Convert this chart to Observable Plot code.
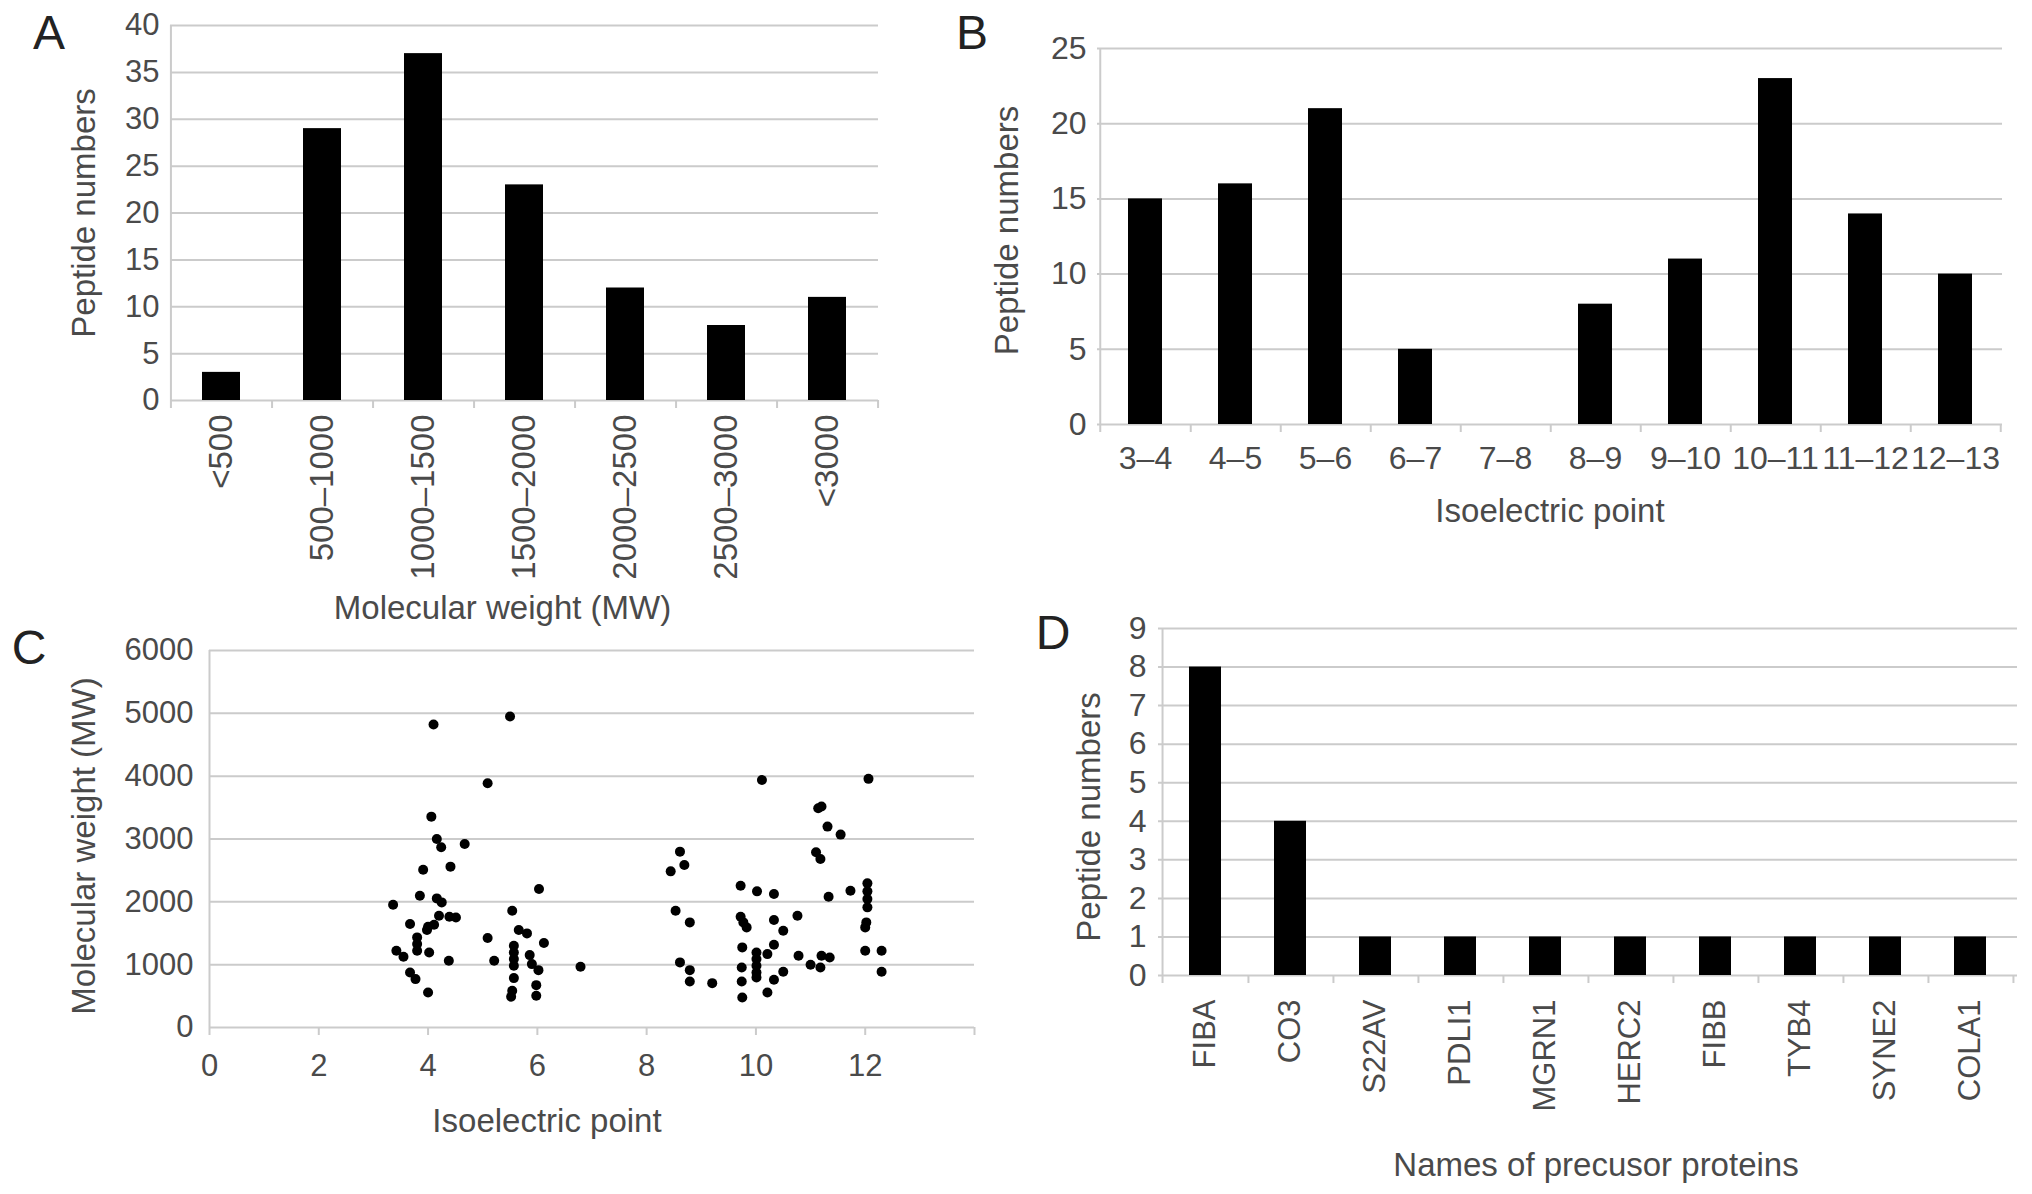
<!DOCTYPE html>
<html>
<head>
<meta charset="utf-8">
<script src="https://cdn.jsdelivr.net/npm/d3@7"></script>
<script src="https://cdn.jsdelivr.net/npm/@observablehq/plot@0.6"></script>
<style>
  body { margin: 0; background: #fff; }
  #page { position: relative; width: 2032px; height: 1194px; overflow: hidden; background: #fff;
          font-family: "Liberation Sans", Arial, sans-serif; }
  .panel { position: absolute; z-index: 1; }
  .tag { position: absolute; z-index: 2; font-size: 48px; line-height: 1; color: #222; transform: translateX(-50%); }
</style>
</head>
<body>
<div id="page">
  <div class="tag" style="left:49px;top:9px">A</div>
  <div class="tag" style="left:972px;top:9px">B</div>
  <div class="tag" style="left:29px;top:624px">C</div>
  <div class="tag" style="left:1053px;top:609px">D</div>
  <div class="panel" id="pa" style="left:0;top:0"></div>
  <div class="panel" id="pb" style="left:960px;top:0"></div>
  <div class="panel" id="pc" style="left:0;top:620px"></div>
  <div class="panel" id="pd" style="left:1000px;top:600px"></div>
</div>
<script>
// A: molecular weight distribution
const mwBins = ["<500", "500–1000", "1000–1500", "1500–2000", "2000–2500", "2500–3000", "<3000"]
const mwCounts = [3, 29, 37, 23, 12, 8, 11]

// B: isoelectric point distribution
const piBins = ["3–4", "4–5", "5–6", "6–7", "7–8", "8–9", "9–10", "10–11", "11–12", "12–13"]
const piCounts = [15, 16, 21, 5, 0, 8, 11, 23, 14, 10]

// C: each peptide, isoelectric point vs molecular weight
const scatterPI = [
  4.10, 5.50, 5.09, 4.06, 4.16, 4.24, 4.67, 3.91, 4.41, 3.85, 3.36, 4.16, 4.25, 3.67, 4.00,
  3.98, 4.11, 4.20, 4.39, 4.51, 3.80, 3.80, 3.80, 3.42, 3.55, 4.02, 4.38, 3.67, 3.77, 4.00,
  5.09, 5.21, 5.54, 6.03, 5.66, 5.81, 6.12, 5.57, 5.57, 5.57, 5.57, 5.86, 5.90, 6.02, 5.57,
  5.54, 5.52, 5.98, 5.98, 6.79,
  8.61, 8.44, 8.69, 8.53, 8.79, 8.61, 8.79, 8.79, 9.20,
  10.11, 9.72, 10.02, 10.33, 9.72, 9.77, 9.83, 10.33, 10.50, 10.76, 9.75, 10.33, 10.01, 10.21,
  10.01, 10.01, 10.01, 10.01, 9.74, 9.74, 9.75, 10.21, 10.33, 10.50, 10.78,
  11.14, 11.20, 11.31, 11.55, 11.10, 11.18, 11.33, 11.73, 11.00, 11.18, 11.20, 11.35,
  12.06, 12.04, 12.04, 12.04, 12.04, 12.02, 12.00, 12.00, 12.30, 12.30
]
const scatterMW = [
  4822, 4950, 3887, 3356, 3001, 2868, 2921, 2512, 2560, 2098, 1954, 2055, 1991, 1646, 1604,
  1551, 1636, 1779, 1763, 1752, 1434, 1328, 1221, 1221, 1126, 1195, 1062, 876, 770, 558,
  1423, 1062, 1859, 2204, 1551, 1498, 1344, 1301, 1195, 1089, 982, 1152, 1009, 913, 786,
  584, 489, 674, 505, 967,
  2799, 2485, 2586, 1859, 1673, 1036, 913, 733, 706,
  3940, 2257, 2167, 2124, 1763, 1673, 1593, 1710, 1540, 1779, 1275, 1317, 1195, 1168,
  1089, 982, 876, 797, 956, 733, 478, 558, 759, 887, 1142,
  3489, 3516, 3197, 3070, 2788, 2682, 2082, 2177, 998, 956, 1142, 1115,
  3957, 2294, 2167, 2045, 1912, 1673, 1593, 1221, 1221, 887
]

// D: precursor proteins
const proteins = ["FIBA", "CO3", "S22AV", "PDLI1", "MGRN1", "HERC2", "FIBB", "TYB4", "SYNE2", "COLA1"]
const proteinCounts = [8, 4, 1, 1, 1, 1, 1, 1, 1, 1]

const GRID = "#cbcbcb"
const TXT = "#4a4a4a"
const FONT = "Liberation Sans, Arial, sans-serif"
const STYLE = {fontFamily: FONT, background: "none", overflow: "visible"}

// axis titles, placed from the frame edge
function xTitle(label, dx, dy) {
  return Plot.text([label], {text: d => d, frameAnchor: "bottom", textAnchor: "middle", lineAnchor: "middle",
                             dx, dy, fontSize: 33, fill: TXT})
}
function yTitle(label, dx, dy) {
  return Plot.text([label], {text: d => d, frameAnchor: "left", textAnchor: "middle", lineAnchor: "middle",
                             rotate: -90, dx, dy, fontSize: 33, fill: TXT})
}

function barPanel(o) {
  const n = o.cats.length
  const step = (o.width - o.ml - o.mr) / n
  const tickLen = 8 / ((o.height - o.mt - o.mb) / o.ymax)
  const rows = o.cats.map((c, i) => ({cat: c, n: o.vals[i]}))
  return Plot.plot({
    width: o.width,
    height: o.height,
    marginLeft: o.ml, marginRight: o.mr, marginTop: o.mt, marginBottom: o.mb,
    style: STYLE,
    x: {domain: o.cats, paddingInner: 0.625, paddingOuter: 0.3125},
    y: {domain: [0, o.ymax]},
    marks: [
      Plot.gridY(d3.range(0, o.ymax + 1, o.ystep), {stroke: GRID, strokeOpacity: 1, strokeWidth: 2}),
      Plot.ruleX([o.cats[0]], {x: d => d, dx: -step / 2, y1: -tickLen, y2: o.ymax, stroke: GRID, strokeWidth: 2}),
      Plot.ruleX(o.cats, {x: d => d, dx: step / 2, y1: 0, y2: -tickLen, stroke: GRID, strokeWidth: 2}),
      Plot.barY(rows, {x: "cat", y: "n", fill: "black"}),
      Plot.axisY({ticks: d3.range(0, o.ymax + 1, o.ystep), tickSize: 0, tickPadding: o.yPad,
                  fontSize: o.yFont, fill: TXT, label: null}),
      Plot.axisX({tickSize: 0, tickPadding: o.xPad, tickRotate: o.rotate, fontSize: o.xFont,
                  fill: TXT, label: null}),
      xTitle(o.xTitle, o.xtDx, o.xtDy),
      yTitle(o.yTitle, o.ytDx, o.ytDy)
    ]
  })
}

document.getElementById("pa").append(barPanel({
  cats: mwBins, vals: mwCounts, width: 1000, height: 640,
  ml: 170, mr: 122, mt: 25, mb: 240, ymax: 40, ystep: 5,
  rotate: -90, xPad: 14, xFont: 33, yPad: 11, yFont: 31,
  xTitle: "Molecular weight (MW)", xtDx: -22, xtDy: 208,
  yTitle: "Peptide numbers", ytDx: -86, ytDy: 0
}))

document.getElementById("pb").append(barPanel({
  cats: piBins, vals: piCounts, width: 1072, height: 560,
  ml: 137, mr: 30, mt: 48, mb: 136, ymax: 25, ystep: 5,
  rotate: 0, xPad: 22, xFont: 32, yPad: 11, yFont: 32,
  xTitle: "Isoelectric point", xtDx: 0, xtDy: 87,
  yTitle: "Peptide numbers", ytDx: -90, ytDy: -6
}))

document.getElementById("pd").append(barPanel({
  cats: proteins, vals: proteinCounts, width: 1032, height: 594,
  ml: 158, mr: 15, mt: 28, mb: 219, ymax: 9, ystep: 1,
  rotate: -90, xPad: 24, xFont: 31, yPad: 12, yFont: 32,
  xTitle: "Names of precusor proteins", xtDx: 8, xtDy: 190,
  yTitle: "Peptide numbers", ytDx: -69, ytDy: 15
}))

// C: scatter
const points = scatterPI.map((p, i) => ({pi: p, mw: scatterMW[i]}))
document.getElementById("pc").append(Plot.plot({
  width: 1000,
  height: 574,
  marginLeft: 209, marginRight: 26, marginTop: 30, marginBottom: 167,
  style: STYLE,
  x: {domain: [0, 14]},
  y: {domain: [0, 6000]},
  marks: [
    Plot.gridY(d3.range(0, 6001, 1000), {stroke: GRID, strokeOpacity: 1, strokeWidth: 2}),
    Plot.ruleX([0], {stroke: GRID, strokeWidth: 2}),
    Plot.dot(points, {x: "pi", y: "mw", r: 5, fill: "black"}),
    Plot.axisY({ticks: d3.range(0, 6001, 1000), tickFormat: "d", tickSize: 0, tickPadding: 16,
                fontSize: 31, fill: TXT, label: null}),
    Plot.axisX({ticks: d3.range(0, 15, 2), tickFormat: d => d === 14 ? "" : d, tickSize: 8,
                tickPadding: 18, fontSize: 31, stroke: GRID, strokeWidth: 2, fill: TXT, label: null}),
    xTitle("Isoelectric point", -45, 94),
    yTitle("Molecular weight (MW)", -125, 7)
  ]
}))
</script>
</body>
</html>
